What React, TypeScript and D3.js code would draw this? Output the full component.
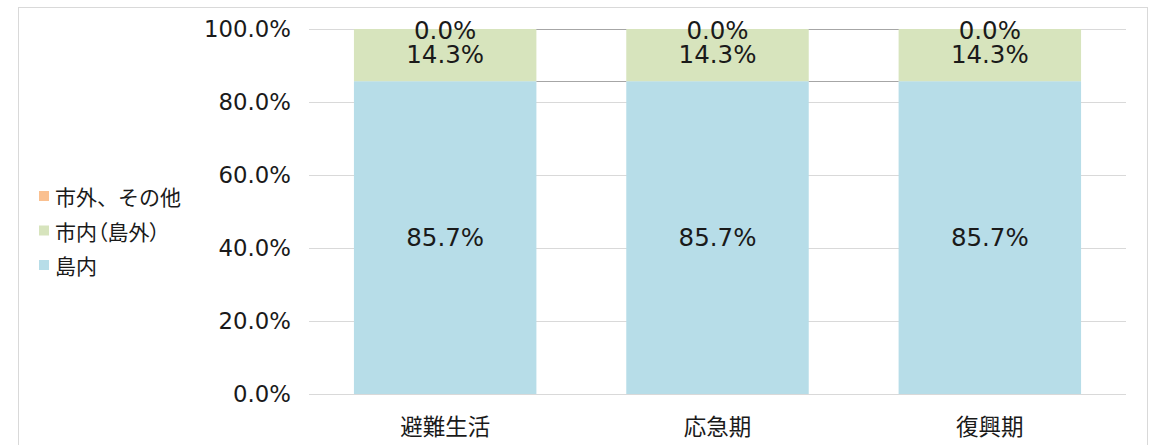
import React from "react";
import * as d3 from "d3";

const categories = ["避難生活", "応急期", "復興期"];
const seriesNames = ["島内", "市内（島外）", "市外、その他"];
const islandValues = [85.7, 85.7, 85.7];
const cityValues = [14.3, 14.3, 14.3];
const otherValues = [0.0, 0.0, 0.0];
const yTicks = [0, 20, 40, 60, 80, 100];
const colors = ["#b7dde8", "#d7e4bd", "#fac090"];

const W = 1156;
const H = 445;
const JP = "'Noto Sans CJK JP', 'Noto Sans', sans-serif";
const LAT = "'DejaVu Sans', sans-serif";

function renderLabel(s: string) {
  // proportional width for full-width parentheses
  const parts = s.split(/([（）])/).filter((p) => p.length > 0);
  return parts.map((p, i) =>
    p === "（" || p === "）" ? (
      <tspan key={i} style={{ fontFeatureSettings: "'palt'" }}>
        {p}
      </tspan>
    ) : (
      <tspan key={i}>{p}</tspan>
    )
  );
}

export default function App() {
  const x = d3.scaleBand<string>().domain(categories).range([309, 1126]).paddingInner(0.33).paddingOuter(0.165);
  const y = d3.scaleLinear().domain([0, 100]).range([394, 29]);

  const rows = categories.map((c, i) => ({
    cat: c,
    s0: islandValues[i],
    s1: cityValues[i],
    s2: otherValues[i],
  }));
  const stack = d3.stack<any>().keys(["s0", "s1", "s2"]);
  const layers = stack(rows);
  const valueSets = [islandValues, cityValues, otherValues];

  const bw = x.bandwidth();

  return (
    <svg width={W} height={H} style={{ display: "block", position: "absolute", left: 0, top: 0 }} fontFamily={JP}>
      <rect x={0} y={0} width={W} height={H} fill="#fff" />
      <rect x={18.5} y={7.5} width={1129} height={450} fill="#fff" stroke="#d9d9d9" strokeWidth={1} />
      {/* gridlines */}
      {yTicks.map((t) => (
        <line key={t} x1={309} x2={1126} y1={Math.round(y(t)) + 0.5} y2={Math.round(y(t)) + 0.5} stroke="#d9d9d9" strokeWidth={1} />
      ))}
      {/* bars */}
      {layers.map((layer, li) =>
        layer.map((d, i) => (
          <rect
            key={li + "-" + i}
            x={x(categories[i])!}
            y={y(d[1])}
            width={bw}
            height={Math.max(0, y(d[0]) - y(d[1]))}
            fill={colors[li]}
          />
        ))
      )}
      {/* series lines */}
      {layers.slice(0, 2).map((layer, li) =>
        layer.slice(0, -1).map((d, i) => (
          <line
            key={"sl" + li + i}
            x1={x(categories[i])! + bw}
            x2={x(categories[i + 1])!}
            y1={Math.round(y(d[1])) + 0.5}
            y2={Math.round(y(layer[i + 1][1])) + 0.5}
            stroke="#a6a6a6"
            strokeWidth={1}
          />
        ))
      )}
      {/* data labels */}
      {layers.map((layer, li) =>
        layer.map((d, i) => {
          const cx = x(categories[i])! + bw / 2;
          let cy = (y(d[0]) + y(d[1])) / 2 - 0.5;
          if (li === 2) cy = y(d[1]) + 1.5;
          const v = valueSets[li][i];
          return (
            <text key={"lb" + li + i} x={cx} y={cy} textAnchor="middle" dominantBaseline="central" fontSize={24.5} fontFamily={LAT} fill="#1a1a1a">
              {v.toFixed(1) + "%"}
            </text>
          );
        })
      )}
      {/* y axis labels */}
      {yTicks.map((t) => (
        <text key={"yt" + t} x={291} y={y(t)} textAnchor="end" dominantBaseline="central" fontSize={22.8} fontFamily={LAT} fill="#1a1a1a">
          {t.toFixed(1) + "%"}
        </text>
      ))}
      {/* x labels */}
      {categories.map((c) => (
        <text key={c} x={x(c)! + bw / 2} y={425} textAnchor="middle" dominantBaseline="central" fontSize={22.5} fill="#1a1a1a">
          {c}
        </text>
      ))}
      {/* legend */}
      {[2, 1, 0].map((si, k) => (
        <g key={"lg" + si}>
          <rect x={39} y={191 + k * 34.5} width={10} height={10} fill={colors[si]} />
          <text x={55} y={196 + k * 34.5} dominantBaseline="central" fontSize={21} fill="#1a1a1a">
            {renderLabel(seriesNames[si])}
          </text>
        </g>
      ))}
    </svg>
  );
}
